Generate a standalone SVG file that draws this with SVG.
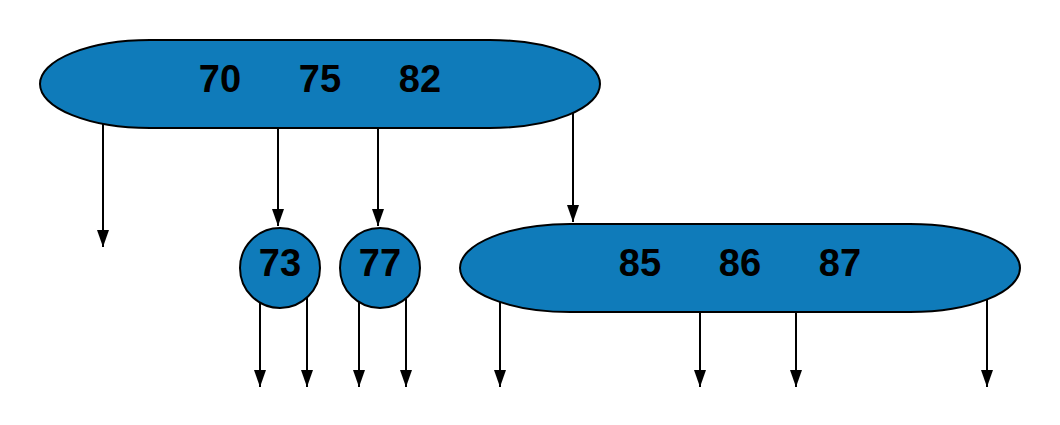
<svg xmlns="http://www.w3.org/2000/svg" width="1060" height="425" viewBox="0 0 1060 425">
<style>
.n{fill:#0f7bba;stroke:#000;stroke-width:2}
.t{font-family:"Liberation Sans",Arial,sans-serif;font-weight:bold;font-size:38px;text-anchor:middle;fill:#000}
.c{stroke:#000;stroke-width:2;fill:none}
</style>
<defs>
<marker id="ah" markerUnits="userSpaceOnUse" markerWidth="17" markerHeight="12" refX="17" refY="6" orient="auto" viewBox="0 0 17 12">
<path d="M0,0 L17,6 L0,12 Z" fill="#000"/>
</marker>
</defs>
<g id="connectors">
<line class="c" x1="103" y1="124" x2="103" y2="247" marker-end="url(#ah)"/>
<line class="c" x1="278" y1="128" x2="278" y2="226" marker-end="url(#ah)"/>
<line class="c" x1="378" y1="128" x2="378" y2="226" marker-end="url(#ah)"/>
<line class="c" x1="573" y1="113" x2="573" y2="222" marker-end="url(#ah)"/>
<line class="c" x1="260" y1="302" x2="260" y2="387" marker-end="url(#ah)"/>
<line class="c" x1="307" y1="297" x2="307" y2="387" marker-end="url(#ah)"/>
<line class="c" x1="359" y1="300" x2="359" y2="387" marker-end="url(#ah)"/>
<line class="c" x1="406" y1="297" x2="406" y2="387" marker-end="url(#ah)"/>
<line class="c" x1="500" y1="302" x2="500" y2="387" marker-end="url(#ah)"/>
<line class="c" x1="700" y1="312" x2="700" y2="387" marker-end="url(#ah)"/>
<line class="c" x1="796" y1="312" x2="796" y2="387" marker-end="url(#ah)"/>
<line class="c" x1="987" y1="299" x2="987" y2="387" marker-end="url(#ah)"/>
</g>
<g id="node-root">
<rect class="n" x="40" y="40" width="560" height="88" rx="110" ry="44"/>
<text class="t" x="220" y="92">70</text>
<text class="t" x="320" y="92">75</text>
<text class="t" x="420" y="92">82</text>
</g>
<g id="node-73">
<circle class="n" cx="280" cy="268" r="40"/>
<text class="t" x="280" y="276">73</text>
</g>
<g id="node-77">
<circle class="n" cx="380" cy="268" r="40"/>
<text class="t" x="380" y="276">77</text>
</g>
<g id="node-85">
<rect class="n" x="460" y="224" width="560" height="88" rx="110" ry="44"/>
<text class="t" x="640" y="276">85</text>
<text class="t" x="740" y="276">86</text>
<text class="t" x="840" y="276">87</text>
</g>
</svg>
